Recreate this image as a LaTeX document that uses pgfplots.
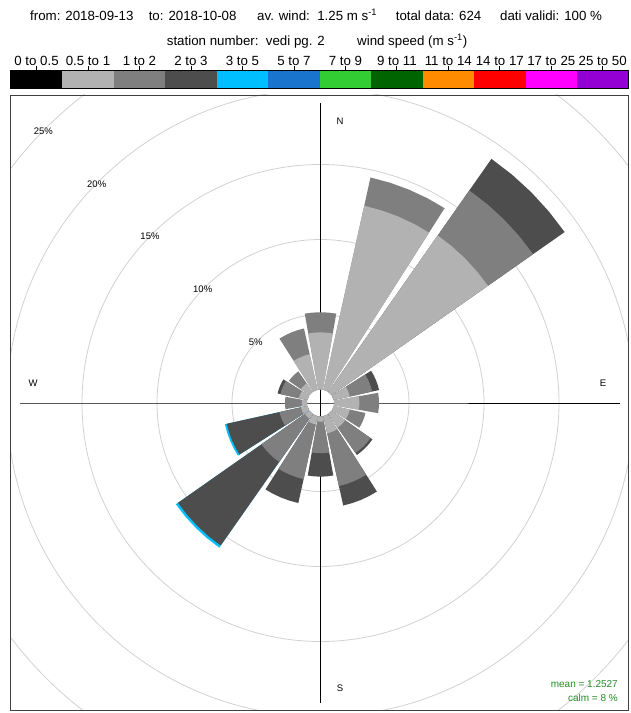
\documentclass[border=0pt]{standalone}
\usepackage{fontspec}
\setmainfont{Liberation Sans}
\usepackage{pgfplots}
\pgfplotsset{compat=1.18}
\usepackage{pgfplotstable}
\usepgfplotslibrary{polar}

\definecolor{wsA}{HTML}{000000}
\definecolor{wsB}{HTML}{B2B2B2}
\definecolor{wsC}{HTML}{7F7F7F}
\definecolor{wsD}{HTML}{4D4D4D}
\definecolor{wsE}{HTML}{00BFFF}
\definecolor{wsF}{HTML}{1874CD}
\definecolor{wsG}{HTML}{32CD32}
\definecolor{wsH}{HTML}{006400}
\definecolor{wsI}{HTML}{FF8C00}
\definecolor{wsJ}{HTML}{FF0000}
\definecolor{wsK}{HTML}{FF00FF}
\definecolor{wsL}{HTML}{9400D3}
\definecolor{calmgreen}{HTML}{228B22}

% frequency (%) per direction (deg from N) and speed interval:
% fa 0.5-1, fb 1-2, fc 2-3, fd 3-5 m/s
\pgfplotstableread{
dir   fa    fb    fc    fd
0     3.81  1.34  0     0
22.5  12.57 1.93  0     0
45    12.73 3.67  2.57  0
67.5  1.10  1.53  0.47  0
90    1.69  1.31  0     0
112.5 1.10  1.07  0     0
135   1.10  2.07  0.16  0
157.5 1.17  3.60  1.33  0
180   0.35  2.10  1.56  0
202.5 0.57  3.73  1.63  0
225   0.37  3.53  6.80  0.17
247.5 0.43  1.47  3.60  0.13
270   0.35  1.12  0     0
292.5 0.57  1.26  0.20  0
315   0.70  0.97  0     0
337.5 2.43  1.76  0     0
}\rosedata

\def\off{0.9}
\newcommand\windsector[3]{%
  \pgfmathsetmacro\aA{90-#1-10}%
  \pgfmathsetmacro\aB{90-#1-5}%
  \pgfmathsetmacro\aC{90-#1}%
  \pgfmathsetmacro\aD{90-#1+5}%
  \pgfmathsetmacro\aE{90-#1+10}%
  \edef\tmp{\noexpand\addplot[draw=none,fill=#3,forget plot] coordinates {(\aA,\off) (\aA,#2) (\aB,#2) (\aC,#2) (\aD,#2) (\aE,#2) (\aE,\off)};}%
  \tmp}

\begin{document}
\begin{tikzpicture}
\useasboundingbox (0pt,0pt) rectangle (630pt,713pt);

% header
\begin{scope}[every node/.style={font=\fontsize{13.3}{15}\selectfont, anchor=base west, inner sep=0pt}]
\node at (30pt,692.3pt) {from: 2018-09-13};
\node at (148.6pt,692.3pt) {to: 2018-10-08};
\node at (257pt,692.3pt) {av. wind:\ \ 1.25 m s\textsuperscript{-1}};
\node at (395.6pt,692.3pt) {total data: 624};
\node at (500pt,692.3pt) {dati validi: 100 \%};
\node at (166.7pt,667.3pt) {station number:\ \ vedi pg. 2};
\node at (357pt,667.3pt) {wind speed (m s\textsuperscript{-1})};
\end{scope}

% colour key
\begin{axis}[
  at={(10.8pt,624.7pt)}, anchor=south west,
  width=617.7pt, height=17.6pt, scale only axis,
  xmin=0, xmax=12, ymin=0, ymax=1,
  ytick=\empty,
  xtick={0.5,1.5,...,11.5},
  xticklabels={0 to 0.5,0.5 to 1,1 to 2,2 to 3,3 to 5,5 to 7,7 to 9,9 to 11,11 to 14,14 to 17,17 to 25,25 to 50},
  xtick pos=right, xticklabel pos=right,
  tick align=outside, major tick length=4.7pt,
  xtick style={black, line width=0.8pt},
  xticklabel style={font=\fontsize{13.3}{15}\selectfont, inner sep=0.6pt},
  axis line style={black, line width=0.8pt},
  axis on top,
]
\addplot[draw=none, fill=wsA] coordinates {(0,0) (1,0) (1,1) (0,1)};
\addplot[draw=none, fill=wsB] coordinates {(1,0) (2,0) (2,1) (1,1)};
\addplot[draw=none, fill=wsC] coordinates {(2,0) (3,0) (3,1) (2,1)};
\addplot[draw=none, fill=wsD] coordinates {(3,0) (4,0) (4,1) (3,1)};
\addplot[draw=none, fill=wsE] coordinates {(4,0) (5,0) (5,1) (4,1)};
\addplot[draw=none, fill=wsF] coordinates {(5,0) (6,0) (6,1) (5,1)};
\addplot[draw=none, fill=wsG] coordinates {(6,0) (7,0) (7,1) (6,1)};
\addplot[draw=none, fill=wsH] coordinates {(7,0) (8,0) (8,1) (7,1)};
\addplot[draw=none, fill=wsI] coordinates {(8,0) (9,0) (9,1) (8,1)};
\addplot[draw=none, fill=wsJ] coordinates {(9,0) (10,0) (10,1) (9,1)};
\addplot[draw=none, fill=wsK] coordinates {(10,0) (11,0) (11,1) (10,1)};
\addplot[draw=none, fill=wsL] coordinates {(11,0) (12,0) (12,1) (11,1)};
\end{axis}

% wind rose
\begin{scope}
\clip (10.5pt,2.5pt) rectangle (628.5pt,618pt);
\begin{polaraxis}[
  at={(320.5pt,310pt)}, anchor=center,
  width=810pt, height=810pt, scale only axis,
  xmin=0, xmax=360, ymin=0, ymax=27,
  xtick=\empty, ytick={5.9,10.9,15.9,20.9,25.9}, yticklabels={,,,,,},
  ymajorgrids=true, xmajorgrids=false,
  major grid style={draw=black!18, line width=0.8pt},
  axis line style={draw=none},
  major tick length=0pt,
  clip=false,
]
\addplot[black, line width=0.9pt, forget plot] coordinates {(180,20) (0,0) (0,20)};
\addplot[black, line width=0.9pt, forget plot] coordinates {(270,20) (0,0) (90,20)};
\pgfplotsinvokeforeach{0,...,15}{%
  \pgfplotstablegetelem{#1}{dir}\of\rosedata \edef\dd{\pgfplotsretval}%
  \pgfplotstablegetelem{#1}{fa}\of\rosedata \edef\fa{\pgfplotsretval}%
  \pgfplotstablegetelem{#1}{fb}\of\rosedata \edef\fb{\pgfplotsretval}%
  \pgfplotstablegetelem{#1}{fc}\of\rosedata \edef\fc{\pgfplotsretval}%
  \pgfplotstablegetelem{#1}{fd}\of\rosedata \edef\fd{\pgfplotsretval}%
  \pgfmathsetmacro\ra{\off+\fa}%
  \pgfmathsetmacro\rb{\ra+\fb}%
  \pgfmathsetmacro\rc{\rb+\fc}%
  \pgfmathsetmacro\rd{\rc+\fd}%
  \ifdim\fd pt>0pt \windsector{\dd}{\rd}{wsE}\fi
  \ifdim\fc pt>0pt \windsector{\dd}{\rc}{wsD}\fi
  \ifdim\fb pt>0pt \windsector{\dd}{\rb}{wsC}\fi
  \windsector{\dd}{\ra}{wsB}%
}
\end{polaraxis}
\end{scope}

% frame
\draw[black!75, line width=0.8pt] (10.5pt,2.5pt) rectangle (628.5pt,618pt);

% ring labels
\begin{scope}[every node/.style={font=\fontsize{9.5}{11}\selectfont, inner sep=0pt}]
\node at (255.7pt,370.7pt) {5\%};
\node at (202.7pt,423.7pt) {10\%};
\node at (150pt,476.3pt) {15\%};
\node at (96.7pt,528.3pt) {20\%};
\node at (43.3pt,581.3pt) {25\%};
\node at (340pt,592pt) {N};
\node at (603pt,330pt) {E};
\node at (340pt,25pt) {S};
\node at (33pt,330pt) {W};
\end{scope}

% statistics
\node[font=\fontsize{10}{12}\selectfont, text=calmgreen, anchor=base east, inner sep=0pt] at (618pt,25.4pt) {mean = 1.2527};
\node[font=\fontsize{10}{12}\selectfont, text=calmgreen, anchor=base east, inner sep=0pt] at (618pt,11.7pt) {calm = 8 \%};
\end{tikzpicture}
\end{document}
